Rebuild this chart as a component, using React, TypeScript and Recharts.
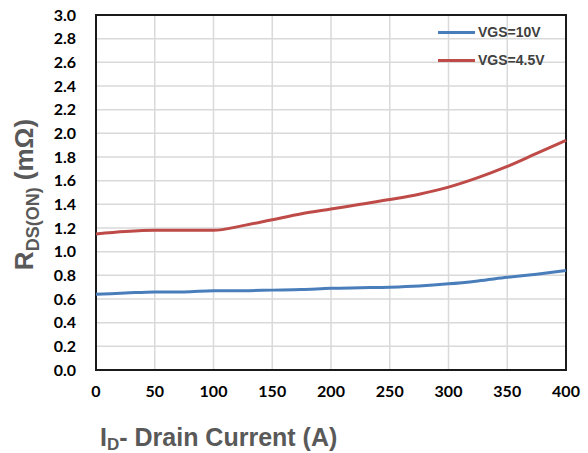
import React from "react";
import {
  LineChart,
  Line,
  XAxis,
  YAxis,
  CartesianGrid,
  ReferenceArea,
} from "recharts";

const currents = [0, 25, 50, 75, 100, 125, 150, 175, 200, 225, 250, 275, 300, 325, 350, 375, 400];
const vgs10 = [0.64, 0.65, 0.66, 0.66, 0.67, 0.67, 0.675, 0.68, 0.69, 0.695, 0.7, 0.71, 0.728, 0.753, 0.783, 0.81, 0.84];
const vgs45 = [1.15, 1.17, 1.18, 1.18, 1.18, 1.22, 1.27, 1.32, 1.36, 1.4, 1.44, 1.485, 1.545, 1.625, 1.72, 1.83, 1.94];
const xTicks = [0, 50, 100, 150, 200, 250, 300, 350, 400];
const yTicks = [0, 0.2, 0.4, 0.6, 0.8, 1.0, 1.2, 1.4, 1.6, 1.8, 2.0, 2.2, 2.4, 2.6, 2.8, 3.0];
const seriesNames = ["VGS=10V", "VGS=4.5V"];
const seriesColors = ["#4a7ebb", "#be4b48"];

const data = currents.map((c, i) => ({ id: c, a: vgs10[i], b: vgs45[i] }));

const TITLE_COLOR = "#595959";
const TITLE_FONT = "'Liberation Sans', Arial, sans-serif";
const TICK_FONT = "Lato, 'Open Sans', sans-serif";

const YTitle = (props: any) => {
  const vb = props.viewBox || {};
  const cx = 33;
  const cy = (vb.y ?? 15) + (vb.height ?? 355) / 2 + 2;
  return (
    <text
      x={cx}
      y={cy}
      transform={`rotate(-90, ${cx}, ${cy})`}
      textAnchor="middle"
      fill={TITLE_COLOR}
      fontFamily={TITLE_FONT}
      fontWeight="bold"
      fontSize={26}
    >
      R
      <tspan fontSize={18} dy={6}>DS(ON)</tspan>
      <tspan dy={-6}> (mΩ)</tspan>
    </text>
  );
};

const XTitle = () => (
  <text
    x={100}
    y={446}
    textAnchor="start"
    fill={TITLE_COLOR}
    fontFamily={TITLE_FONT}
    fontWeight="bold"
    fontSize={25}
  >
    I
    <tspan fontSize={17} dy={4}>D</tspan>
    <tspan dy={-4}>- Drain Current (A)</tspan>
  </text>
);

export default function App() {
  return (
    <div style={{ position: "absolute", left: 0, top: 0, width: 588, height: 453, background: "#fff" }}>
      <LineChart
        width={588}
        height={453}
        data={data}
        margin={{ top: 15, right: 22, bottom: 0, left: 0 }}
      >
        <CartesianGrid stroke="#d9d9d9" strokeWidth={1.5} />
        <XAxis
          dataKey="id"
          type="number"
          domain={[0, 400]}
          ticks={xTicks}
          interval={0}
          height={83}
          axisLine={false}
          tickLine={false}
          tickSize={0}
          tickMargin={16}
          tick={{ fill: "#000", fontSize: 16, fontWeight: "bold", fontFamily: TICK_FONT }}
          label={<XTitle />}
        />
        <YAxis
          type="number"
          domain={[0, 3]}
          ticks={yTicks}
          interval={0}
          width={96}
          axisLine={false}
          tickLine={false}
          tickSize={0}
          tickMargin={20}
          tickFormatter={(v: number) => v.toFixed(1)}
          tick={{ fill: "#000", fontSize: 16, fontWeight: "bold", fontFamily: TICK_FONT }}
          label={<YTitle />}
        />
        <ReferenceArea
          x1={0}
          x2={400}
          y1={0}
          y2={3}
          fill="none"
          fillOpacity={0}
          stroke="#1a1a1a"
          strokeWidth={2}
          ifOverflow="visible"
        />
        <Line
          type="monotone"
          dataKey="a"
          name={seriesNames[0]}
          stroke={seriesColors[0]}
          strokeWidth={3}
          dot={false}
          isAnimationActive={false}
        />
        <Line
          type="monotone"
          dataKey="b"
          name={seriesNames[1]}
          stroke={seriesColors[1]}
          strokeWidth={3}
          dot={false}
          isAnimationActive={false}
        />
      </LineChart>
      <div
        style={{
          position: "absolute",
          left: 438,
          top: 18,
          fontFamily: TITLE_FONT,
          fontWeight: "bold",
          fontSize: 14,
          color: "#404040",
        }}
      >
        {seriesNames.map((n, i) => (
          <div key={n} style={{ display: "flex", alignItems: "center", height: 28 }}>
            <div style={{ width: 37, height: 3, background: seriesColors[i], marginRight: 3 }} />
            <span>{n}</span>
          </div>
        ))}
      </div>
    </div>
  );
}
